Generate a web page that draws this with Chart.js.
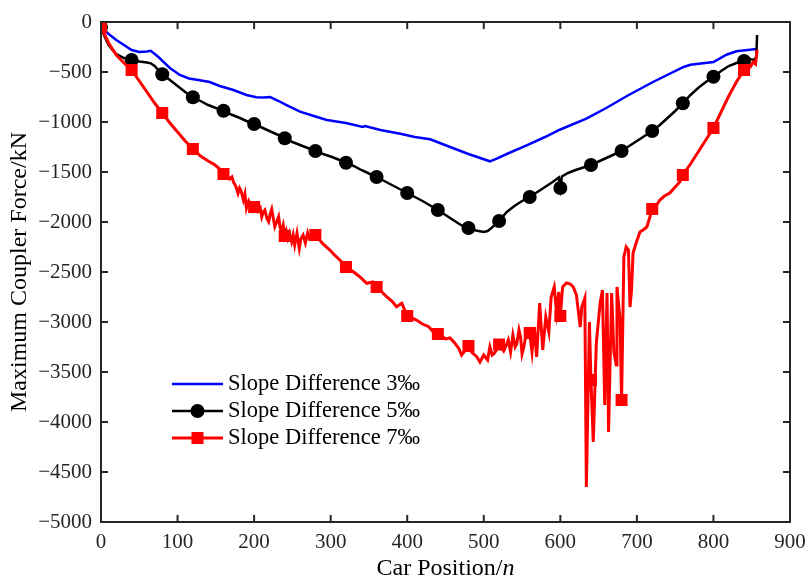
<!DOCTYPE html>
<html>
<head>
<meta charset="utf-8">
<script src="https://cdn.jsdelivr.net/npm/chart.js@4.4.1/dist/chart.umd.min.js"></script>
<style>
  html, body { margin: 0; padding: 0; background: #fff; }
  canvas { display: block; }
</style>
</head>
<body>
<canvas id="couplerChart" width="808" height="581"></canvas>
<script>
// car positions where MATLAB put a marker
const markerX = [0, 40, 80, 120, 160, 200, 240, 280, 320, 360, 400, 440, 480, 520, 560, 600, 640, 680, 720, 760, 800, 840];

const xTicks = [0, 100, 200, 300, 400, 500, 600, 700, 800, 900];
const yTicks = [0, -500, -1000, -1500, -2000, -2500, -3000, -3500, -4000, -4500, -5000];

// slope difference 3 per mille
const blueX = [0, 10, 20, 30, 40, 50, 60, 65, 75, 90, 103, 115, 129, 142, 155, 173, 190, 203, 212, 221, 232, 243, 260, 278, 295, 320, 342, 345, 365, 391, 410, 430, 456, 480, 508, 517, 530, 556, 580, 600, 634, 660, 687, 721, 761, 770, 800, 817, 830, 845, 856];
const blueY = [-50, -120, -180, -230, -280, -300, -295, -288, -350, -460, -530, -565, -583, -600, -640, -680, -730, -753, -755, -750, -790, -833, -897, -940, -980, -1010, -1050, -1040, -1080, -1117, -1150, -1173, -1250, -1320, -1393, -1367, -1320, -1233, -1150, -1075, -967, -860, -740, -600, -450, -427, -400, -327, -293, -280, -270];

// slope difference 5 per mille
const blackX = [0, 5, 10, 15, 20, 30, 40, 50, 60, 65, 70, 80, 90, 100, 110, 120, 130, 140, 150, 160, 170, 180, 190, 200, 210, 220, 230, 240, 250, 260, 270, 280, 290, 300, 310, 320, 330, 340, 350, 360, 370, 380, 390, 400, 410, 420, 430, 440, 450, 460, 470, 480, 490, 500, 505, 510, 520, 530, 540, 550, 560, 570, 580, 590, 598, 600, 602, 610, 620, 630, 640, 650, 660, 670, 680, 690, 700, 710, 720, 730, 740, 750, 760, 770, 780, 790, 800, 810, 820, 830, 840, 848, 853, 856, 857];
const blackY = [-50, -150, -230, -280, -320, -360, -380, -395, -405, -413, -440, -523, -580, -640, -700, -753, -790, -830, -860, -887, -925, -955, -990, -1020, -1055, -1090, -1125, -1163, -1200, -1230, -1260, -1290, -1320, -1345, -1375, -1407, -1440, -1480, -1515, -1550, -1590, -1630, -1670, -1710, -1750, -1790, -1835, -1880, -1930, -1980, -2030, -2060, -2085, -2100, -2090, -2060, -1990, -1900, -1840, -1790, -1750, -1700, -1650, -1600, -1555, -1660, -1545, -1510, -1480, -1455, -1430, -1395, -1360, -1325, -1290, -1240, -1190, -1140, -1090, -1030, -960, -890, -813, -730, -660, -600, -547, -490, -440, -410, -390, -370, -380, -350, -130];

// slope difference 7 per mille
const redX = [
    0, 10, 20, 30, 40, 50, 60, 70, 80, 90, 100, 110, 120, 130, 140, 149, 155, 160,
    165, 168, 171, 173, 176, 179, 181, 183, 186, 188, 190, 193, 195, 198, 200, 203, 205, 208, 210, 212, 214, 217, 219, 221, 223, 225,
    227, 230, 232, 234, 236, 238, 240, 242, 244, 246, 249, 251, 253, 256, 259, 261, 264, 267, 270, 272, 275, 278, 280,
    290, 299, 305, 312, 320, 330, 338, 347, 355, 360, 367, 373, 380, 386, 393, 400, 406, 412, 420, 428, 434, 440,
    445, 450, 456, 462, 467, 471, 475, 480, 484, 487, 491, 495, 500, 505, 508, 511, 514, 518, 520, 526, 529, 532, 535, 538, 541, 543, 546, 548, 550, 552, 556, 560, 563, 566, 569, 573, 577, 581, 585, 588, 592, 595, 598, 600,
    603, 608, 613, 617, 621, 626, 628, 632, 634, 638, 640, 643, 647, 652, 655, 658, 661, 663, 667, 670, 673, 674, 678, 680, 683, 686, 689, 691, 693, 695, 699,
    704, 708, 713, 717, 720, 725, 730, 736, 743, 750, 756, 760, 770, 780, 790, 800, 810, 820, 830, 840, 848, 852, 855, 857
];
const redY = [
    -50, -210, -330, -410, -480, -590, -700, -810, -910, -1010, -1100, -1190, -1270, -1340, -1390, -1430, -1470, -1520,
    -1540, -1570, -1550, -1600, -1640, -1713, -1660, -1690, -1780, -1720, -1863, -1790, -1820, -1880, -1850, -1830, -1890, -1860, -1947, -1900, -1880, -1970, -1997, -1920, -1873, -1960,
    -2047, -1990, -1947, -2060, -2080, -2030, -2140, -2090, -2160, -2110, -2197, -2130, -2230, -2113, -2263, -2170, -2130, -2210, -2110, -2160, -2120, -2100, -2130,
    -2220, -2280, -2330, -2380, -2450, -2500, -2547, -2613, -2600, -2650, -2700, -2747, -2790, -2847, -2813, -2940, -2960, -2980, -3020, -3047, -3097, -3120,
    -3140, -3170, -3160, -3210, -3260, -3330, -3290, -3240, -3300, -3320, -3350, -3400, -3330, -3380, -3250, -3330, -3310, -3260, -3225, -3290, -3240, -3180, -3300, -3130, -3250, -3220, -3080, -3150, -3320, -3260, -3100, -3110, -3300, -3050, -3350, -2810, -3280, -2950, -3100, -2750, -2650, -2900, -2700, -2940,
    -2650, -2610, -2620, -2650, -2730, -3050, -2850, -2760, -4650, -3000, -3580, -4200, -3210, -2810, -2680, -3830, -2710, -4100, -2710, -3300, -3430, -2650, -2980, -3780, -2350, -2250, -2280, -2850, -2680, -2310, -2210,
    -2100, -2080, -2050, -1950, -1870, -1840, -1780, -1740, -1710, -1650, -1600, -1530, -1420, -1300, -1180, -1060, -900, -740, -600, -480, -450, -400, -420, -280
];

const seriesNames = ['Slope Difference 3‰', 'Slope Difference 5‰', 'Slope Difference 7‰'];
const seriesColors = ['#0000ff', '#000000', '#ff0000'];

const SERIF = '"Liberation Serif", "Times New Roman", serif';
const AXIS_COLOR = '#262626';

function toPoints(xs, ys) {
    return xs.map((x, i) => ({ x: x, y: ys[i] }));
}

function markerRadius(size) {
    return ctx => (ctx.raw && markerX.includes(ctx.raw.x)) ? size : 0;
}

function minusSign(v) {
    return String(v).replace('-', '\u2212');
}

// MATLAB style box with inward ticks on all four sides
const boxPlugin = {
    id: 'boxPlugin',
    afterDatasetsDraw(chart) {
        const { ctx, chartArea: a, scales } = chart;
        const len = 7;
        ctx.save();
        ctx.strokeStyle = AXIS_COLOR;
        ctx.lineWidth = 2;
        ctx.beginPath();
        xTicks.forEach(v => {
            const px = scales.x.getPixelForValue(v);
            ctx.moveTo(px, a.bottom); ctx.lineTo(px, a.bottom - len);
            ctx.moveTo(px, a.top); ctx.lineTo(px, a.top + len);
        });
        yTicks.forEach(v => {
            const py = scales.y.getPixelForValue(v);
            ctx.moveTo(a.left, py); ctx.lineTo(a.left + len, py);
            ctx.moveTo(a.right, py); ctx.lineTo(a.right - len, py);
        });
        ctx.stroke();
        ctx.strokeRect(a.left, a.top, a.right - a.left, a.bottom - a.top);
        ctx.restore();
    }
};

// legend drawn by hand: line + marker + label
const legendPlugin = {
    id: 'legendPlugin',
    afterDraw(chart) {
        const { ctx } = chart;
        const rows = [384, 411, 438];
        const x0 = 172, x1 = 223;
        ctx.save();
        chart.data.datasets.forEach((ds, i) => {
            const y = rows[i];
            ctx.strokeStyle = ds.borderColor;
            ctx.lineWidth = ds.borderWidth;
            ctx.beginPath();
            ctx.moveTo(x0, y); ctx.lineTo(x1, y);
            ctx.stroke();
            const cx = (x0 + x1) / 2;
            ctx.fillStyle = ds.borderColor;
            if (ds.pointStyle === 'circle') {
                ctx.beginPath();
                ctx.arc(cx, y, 7, 0, Math.PI * 2);
                ctx.fill();
            } else if (ds.pointStyle === 'rect') {
                ctx.fillRect(cx - 6, y - 6, 12, 12);
            }
            ctx.fillStyle = '#000';
            ctx.font = '22.5px ' + SERIF;
            ctx.textBaseline = 'middle';
            ctx.textAlign = 'left';
            ctx.fillText(seriesNames[i], 228, y);
        });
        ctx.restore();
    }
};

// x axis title with italic n
const xTitlePlugin = {
    id: 'xTitlePlugin',
    afterDraw(chart) {
        const { ctx, chartArea: a } = chart;
        const main = 'Car Position/';
        const tail = 'n';
        ctx.save();
        ctx.fillStyle = '#000';
        ctx.textBaseline = 'middle';
        ctx.textAlign = 'left';
        ctx.font = '24px ' + SERIF;
        const w1 = ctx.measureText(main).width;
        ctx.font = 'italic 24px ' + SERIF;
        const w2 = ctx.measureText(tail).width;
        const start = (a.left + a.right) / 2 - (w1 + w2) / 2;
        ctx.font = '24px ' + SERIF;
        ctx.fillText(main, start, 569);
        ctx.font = 'italic 24px ' + SERIF;
        ctx.fillText(tail, start + w1, 569);
        ctx.restore();
    }
};

const chart = new Chart(document.getElementById('couplerChart'), {
    type: 'line',
    data: {
        datasets: [
            {
                label: seriesNames[0],
                data: toPoints(blueX, blueY),
                borderColor: seriesColors[0],
                borderWidth: 2.5,
                pointRadius: 0,
                pointStyle: false,
                order: 2
            },
            {
                label: seriesNames[1],
                data: toPoints(blackX, blackY),
                borderColor: seriesColors[1],
                backgroundColor: seriesColors[1],
                borderWidth: 2.5,
                pointStyle: 'circle',
                pointRadius: markerRadius(7),
                pointBorderWidth: 0,
                order: 1
            },
            {
                label: seriesNames[2],
                data: toPoints(redX, redY),
                borderColor: seriesColors[2],
                backgroundColor: seriesColors[2],
                borderWidth: 3,
                pointStyle: 'rect',
                pointRadius: markerRadius(8.5),
                pointBorderWidth: 0,
                order: 0
            }
        ]
    },
    options: {
        responsive: false,
        animation: false,
        layout: { padding: { top: 22, right: 18, left: 0, bottom: 0 } },
        plugins: {
            legend: { display: false },
            tooltip: { enabled: false }
        },
        scales: {
            x: {
                type: 'linear',
                min: 0,
                max: 900,
                grid: { display: false, drawTicks: false },
                border: { display: false },
                afterFit: scale => {
                    scale.height = 59;
                    scale.paddingLeft = 0;
                    scale.paddingRight = 0;
                },
                afterBuildTicks: scale => { scale.ticks = xTicks.map(v => ({ value: v })); },
                ticks: {
                    color: AXIS_COLOR,
                    font: { family: SERIF, size: 21 },
                    padding: 8,
                    maxRotation: 0,
                    callback: v => minusSign(v)
                }
            },
            y: {
                type: 'linear',
                min: -5000,
                max: 0,
                grid: { display: false, drawTicks: false },
                border: { display: false },
                afterFit: scale => { scale.width = 101; },
                afterBuildTicks: scale => { scale.ticks = yTicks.map(v => ({ value: v })); },
                title: {
                    display: true,
                    text: 'Maximum Coupler Force/kN',
                    color: '#000',
                    font: { family: SERIF, size: 24 },
                    padding: { top: 5, bottom: 0 }
                },
                ticks: {
                    color: AXIS_COLOR,
                    font: { family: SERIF, size: 21 },
                    padding: 9,
                    callback: v => minusSign(v)
                }
            }
        }
    },
    plugins: [boxPlugin, legendPlugin, xTitlePlugin]
});
</script>
</body>
</html>
